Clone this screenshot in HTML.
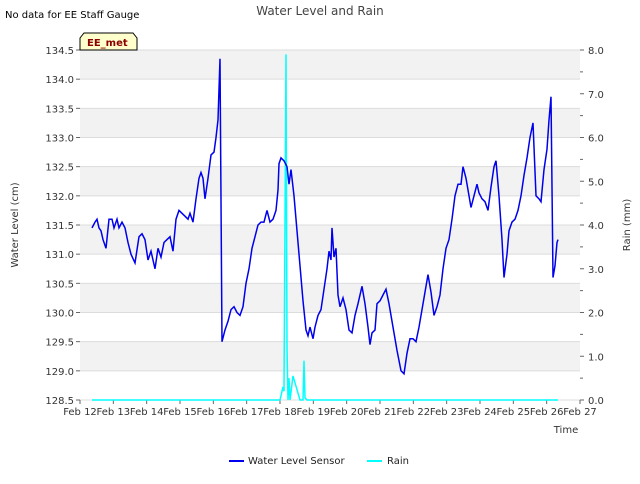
<!DOCTYPE html>
<html><head><meta charset="utf-8"><style>
body{margin:0;background:#fff;font-family:"DejaVu Sans","Liberation Sans",sans-serif;}
svg text{font-family:"DejaVu Sans","Liberation Sans",sans-serif;}
</style></head><body>
<svg id="chart" width="640" height="480" viewBox="0 0 640 480" xmlns="http://www.w3.org/2000/svg">
<text x="5" y="18" font-size="10" fill="#000">No data for EE Staff Gauge</text>
<text x="320" y="15" font-size="12" fill="#444" text-anchor="middle">Water Level and Rain</text>
<g id="bands"></g>
<g id="grid"></g>
<g id="axes"></g>
<path id="rain" fill="none" stroke="#00ffff" stroke-width="1.5"/>
<path id="level" fill="none" stroke="#0000ee" stroke-width="1.5"/>
<g>
<path d="M80,50 L80,38 L84,33 L133,33 L137,38 L137,50 Z" fill="#ffffcc" stroke="#000" stroke-width="1"/>
<text x="87" y="46" font-size="10" font-weight="bold" fill="#8b0000">EE_met</text>
</g>
<text x="18" y="225" font-size="10" fill="#333" text-anchor="middle" transform="rotate(-90 18 225)">Water Level (cm)</text>
<text x="630" y="225" font-size="10" fill="#333" text-anchor="middle" transform="rotate(-90 630 225)">Rain (mm)</text>
<text x="566" y="433" font-size="10" fill="#333" text-anchor="middle">Time</text>
<g>
<g><line x1="229" y1="461" x2="244" y2="461" stroke="#0000ee" stroke-width="2"/><text x="248" y="464" font-size="10" fill="#222">Water Level Sensor</text></g>
<g><line x1="367" y1="461" x2="382" y2="461" stroke="#00ffff" stroke-width="2"/><text x="387" y="464" font-size="10" fill="#222">Rain</text></g>
</g>
</svg>
<script>
const xTickLabels=["Feb 12","Feb 13","Feb 14","Feb 15","Feb 16","Feb 17","Feb 18","Feb 19","Feb 20","Feb 21","Feb 22","Feb 23","Feb 24","Feb 25","Feb 26","Feb 27"];
const leftTicks=[128.5,129.0,129.5,130.0,130.5,131.0,131.5,132.0,132.5,133.0,133.5,134.0,134.5];
const rightTicks=[0,1,2,3,4,5,6,7,8];
const levelDays=[0.36,0.45,0.51,0.57,0.63,0.69,0.78,0.87,0.96,1.02,1.11,1.17,1.26,1.35,1.44,1.53,1.65,1.77,1.86,1.95,2.04,2.13,2.25,2.34,2.43,2.52,2.61,2.70,2.79,2.88,2.97,3.06,3.15,3.24,3.30,3.39,3.48,3.57,3.63,3.69,3.75,3.84,3.93,4.02,4.08,4.14,4.20,4.26,4.35,4.44,4.53,4.62,4.71,4.80,4.89,4.98,5.07,5.16,5.25,5.34,5.43,5.52,5.61,5.70,5.79,5.88,5.94,5.97,6.03,6.12,6.21,6.27,6.33,6.42,6.51,6.60,6.69,6.78,6.84,6.90,6.99,7.05,7.14,7.23,7.32,7.41,7.47,7.53,7.56,7.62,7.68,7.74,7.80,7.89,7.98,8.07,8.16,8.25,8.34,8.46,8.55,8.64,8.70,8.76,8.85,8.91,9.00,9.09,9.18,9.27,9.39,9.51,9.63,9.72,9.81,9.90,9.99,10.08,10.17,10.26,10.35,10.44,10.53,10.62,10.71,10.80,10.89,10.98,11.07,11.16,11.25,11.34,11.43,11.49,11.58,11.67,11.73,11.82,11.91,11.97,12.06,12.15,12.24,12.33,12.42,12.48,12.57,12.66,12.72,12.81,12.87,12.96,13.05,13.14,13.23,13.32,13.41,13.50,13.59,13.68,13.77,13.83,13.92,14.01,14.07,14.13,14.19,14.25,14.31,14.34];
const levelValues=[131.45,131.55,131.6,131.45,131.4,131.25,131.1,131.6,131.6,131.45,131.6,131.45,131.55,131.45,131.2,131.0,130.85,131.3,131.35,131.25,130.9,131.05,130.75,131.1,130.95,131.2,131.25,131.3,131.05,131.6,131.75,131.7,131.65,131.6,131.7,131.55,131.95,132.3,132.4,132.3,131.95,132.3,132.7,132.75,133.0,133.3,134.35,129.5,129.7,129.85,130.05,130.1,130.0,129.95,130.1,130.5,130.75,131.1,131.3,131.5,131.55,131.55,131.75,131.55,131.6,131.75,132.1,132.55,132.65,132.6,132.5,132.2,132.45,132.0,131.4,130.8,130.2,129.7,129.6,129.75,129.55,129.75,129.95,130.05,130.4,130.75,131.05,130.9,131.45,130.95,131.1,130.3,130.1,130.25,130.05,129.7,129.65,129.95,130.15,130.45,130.15,129.75,129.45,129.65,129.7,130.15,130.2,130.3,130.4,130.15,129.75,129.35,129.0,128.95,129.3,129.55,129.55,129.5,129.75,130.05,130.35,130.65,130.35,129.95,130.1,130.3,130.75,131.1,131.25,131.6,132.0,132.2,132.2,132.5,132.3,132.0,131.8,132.0,132.2,132.05,131.95,131.9,131.75,132.15,132.5,132.6,132.0,131.25,130.6,131.0,131.4,131.55,131.6,131.75,132.0,132.35,132.65,133.0,133.25,132.0,131.95,131.9,132.45,132.8,133.3,133.7,130.6,130.8,131.2,131.25];
const rainDays=[0.36,6.0,6.09,6.12,6.18,6.21,6.24,6.27,6.30,6.39,6.60,6.69,6.72,6.75,6.81,14.34];
const rainValues=[0,0,0.3,0.2,7.9,1.2,0,0.5,0,0.55,0,0,0.9,0.05,0,0];

const X0=80,X1=580,Y0=400,Y1=50;
const xs=d=>X0+(X1-X0)*d/15;
const yl=v=>Y0-(Y0-Y1)*(v-128.5)/6;
const yr=v=>Y0-(Y0-Y1)*v/8;
const NS="http://www.w3.org/2000/svg";
function mk(tag,attrs,parent){const e=document.createElementNS(NS,tag);for(const k in attrs)e.setAttribute(k,attrs[k]);parent.appendChild(e);return e;}
const bands=document.getElementById('bands'),grid=document.getElementById('grid'),axes=document.getElementById('axes');
mk('rect',{x:X0,y:Y1,width:X1-X0,height:Y0-Y1,fill:'#fff'},bands);
for(let i=0;i<leftTicks.length-1;i++){
  if(i%2===1){const r=mk('rect',{x:X0,y:yl(leftTicks[i+1]),width:X1-X0,height:yl(leftTicks[i])-yl(leftTicks[i+1]),fill:'#f2f2f2'},bands);
  
  }
}
leftTicks.forEach(v=>{
  const y=yl(v);
  mk('line',{x1:X0,x2:X1,y1:y,y2:y,stroke:'#dcdcdc','stroke-width':1},grid);
  mk('line',{x1:X0-4,x2:X0,y1:y,y2:y,stroke:'#666'},axes);
  const t=mk('text',{x:X0-6,y:y+4,'font-size':10,fill:'#333','text-anchor':'end'},axes);
  t.textContent=v.toFixed(1);
  
  
});
rightTicks.forEach(v=>{
  const y=yr(v);
  mk('line',{x1:X1,x2:X1+4,y1:y,y2:y,stroke:'#666'},axes);
  if(v<8){const ym=yr(v+0.5);mk('line',{x1:X1,x2:X1+3,y1:ym,y2:ym,stroke:'#666'},axes);}
  const t=mk('text',{x:X1+8,y:y+4,'font-size':10,fill:'#333'},axes);
  t.textContent=v.toFixed(1);
  
  
});
xTickLabels.forEach((lab,i)=>{
  const x=xs(i);
  mk('line',{x1:x,x2:x,y1:Y0,y2:Y0+4,stroke:'#666'},axes);
  const t=mk('text',{x:x,y:Y0+15,'font-size':10,fill:'#333','text-anchor':'middle'},axes);
  t.textContent=lab;
  
  
});
document.getElementById('level').setAttribute('d',levelDays.map((d,i)=>(i?'L':'M')+xs(d).toFixed(1)+','+yl(levelValues[i]).toFixed(1)).join(''));
document.getElementById('rain').setAttribute('d',rainDays.map((d,i)=>(i?'L':'M')+xs(d).toFixed(1)+','+yr(rainValues[i]).toFixed(1)).join(''));
</script>
</body></html>
